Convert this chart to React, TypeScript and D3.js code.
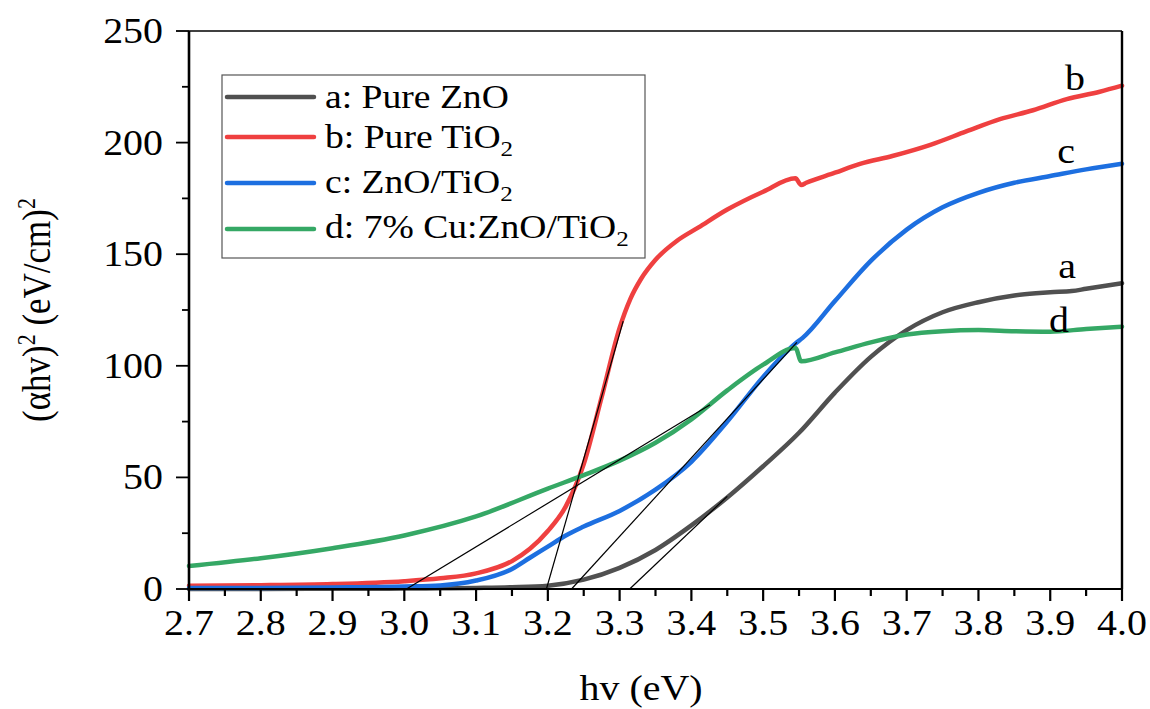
import React from "react";
import * as d3 from "d3";

// Tauc plot: (αhv)² versus photon energy for four samples
const ZNO_X = [2.7, 2.8, 2.9, 3.0, 3.05, 3.1, 3.15, 3.2, 3.25, 3.3, 3.35, 3.4, 3.45, 3.5, 3.55, 3.6, 3.65, 3.7, 3.75, 3.8, 3.85, 3.88, 3.9, 3.93, 3.95, 4.0];
const ZNO_Y = [0, 0, 0.1, 0.2, 0.3, 0.5, 0.8, 1.5, 4.2, 9.5, 17.5, 28.5, 41, 55, 70, 88, 104, 116, 124, 128.5, 131.5, 132.5, 133, 133.5, 134.5, 137];

const TIO2_X = [2.7, 2.8, 2.9, 3.0, 3.05, 3.1, 3.15, 3.175, 3.2, 3.225, 3.25, 3.275, 3.3, 3.315, 3.33, 3.35, 3.38, 3.41, 3.45, 3.5, 3.545, 3.553, 3.56, 3.6, 3.635, 3.68, 3.733, 3.783, 3.83, 3.876, 3.923, 3.969, 4.0];
const TIO2_Y = [1.5, 1.7, 2.2, 3.5, 4.8, 7, 12.5, 18, 26, 37, 56, 86, 117, 130, 139, 147.5, 156, 162, 170, 178, 184, 181, 182, 186.5, 190.5, 194, 199, 205, 210.5, 214.5, 219.5, 222.8, 225.5];

const ZT_X = [2.7, 2.8, 2.9, 3.0, 3.05, 3.1, 3.15, 3.175, 3.2, 3.225, 3.25, 3.3, 3.35, 3.4, 3.45, 3.5, 3.545, 3.555, 3.6, 3.65, 3.7, 3.75, 3.8, 3.85, 3.9, 3.95, 4.0];
const ZT_Y = [0.5, 0.5, 0.7, 1.1, 1.6, 3.8, 9, 14, 19, 24, 28, 35, 44.5, 57, 75, 95, 110, 112.5, 129, 147, 161, 171, 177.5, 182, 185, 188, 190.5];

const CU_X = [2.7, 2.8, 2.9, 3.0, 3.1, 3.2, 3.25, 3.3, 3.35, 3.4, 3.45, 3.5, 3.545, 3.553, 3.6, 3.65, 3.7, 3.75, 3.8, 3.85, 3.9, 3.95, 4.0];
const CU_Y = [10.3, 13.8, 18.3, 24, 32.5, 45, 51, 57.5, 65.5, 76, 89, 100.5, 108, 102, 106, 110.5, 114, 115.5, 116, 115.5, 115.3, 116.5, 117.5];

// Linear extrapolations to the energy axis (band-gap estimates)
const TANGENTS: [number, number, number, number][] = [
  [3.003, 0, 3.426, 82.5],
  [3.198, 0, 3.305, 120],
  [3.233, 0, 3.547, 110.5],
  [3.314, 0, 3.45, 41.5],
];

const X_TICKS = [2.7, 2.8, 2.9, 3.0, 3.1, 3.2, 3.3, 3.4, 3.5, 3.6, 3.7, 3.8, 3.9, 4.0];
const X_MINOR = [2.75, 2.85, 2.95, 3.05, 3.15, 3.25, 3.35, 3.45, 3.55, 3.65, 3.75, 3.85, 3.95];
const Y_TICKS = [0, 50, 100, 150, 200, 250];
const Y_MINOR = [25, 75, 125, 175, 225];

const SERIES = [
  { key: "a", name: "Pure ZnO", sub: "", xs: ZNO_X, ys: ZNO_Y, color: "#505050", tag: [1067, 278] },
  { key: "b", name: "Pure TiO", sub: "2", xs: TIO2_X, ys: TIO2_Y, color: "#ef4040", tag: [1075, 90] },
  { key: "c", name: "ZnO/TiO", sub: "2", xs: ZT_X, ys: ZT_Y, color: "#1d6fe0", tag: [1066, 163] },
  { key: "d", name: "7% Cu:ZnO/TiO", sub: "2", xs: CU_X, ys: CU_Y, color: "#35a865", tag: [1059, 332] },
];

const W = 1150;
const H = 709;
const L = 189;
const R = 1122;
const T = 31;
const B = 589;
const SX = 1.14;
const FONT = "Liberation Serif";

const x = d3.scaleLinear().domain([2.7, 4.0]).range([L, R]);
const y = d3.scaleLinear().domain([0, 250]).range([B, T]);

const line = d3
  .line<[number, number]>()
  .x((d) => x(d[0]))
  .y((d) => y(d[1]))
  .curve(d3.curveMonotoneX);

function Txt({ px, py, size = 35, anchor = "start", children, rotate = 0 }: any) {
  return (
    <text
      transform={`translate(${px},${py}) scale(${SX},1)${rotate ? ` rotate(${rotate})` : ""}`}
      fontFamily={FONT}
      fontSize={size}
      textAnchor={anchor}
      fill="#000"
    >
      {children}
    </text>
  );
}

const LEGEND_ROWS = [97, 137, 183, 229];
const LEGEND_BASE = [108, 148, 193, 238];

export default function App() {
  return (
    <svg width={W} height={H} style={{ position: "fixed", left: 0, top: 0, background: "#fff" }}>
      {/* curves */}
      {SERIES.map((s) => (
        <path
          key={s.key}
          d={line(s.xs.map((v, i) => [v, s.ys[i]] as [number, number])) || ""}
          fill="none"
          stroke={s.color}
          strokeWidth={4.5}
          strokeLinejoin="round"
          strokeLinecap="round"
        />
      ))}
      {TANGENTS.map((t, i) => (
        <line key={i} x1={x(t[0])} y1={y(t[1])} x2={x(t[2])} y2={y(t[3])} stroke="#000" strokeWidth={1.2} />
      ))}

      {/* frame */}
      <line x1={L} y1={T} x2={R} y2={T} stroke="#000" strokeWidth={1.6} />
      <line x1={R} y1={T} x2={R} y2={B} stroke="#000" strokeWidth={2.4} />
      <line x1={L} y1={T} x2={L} y2={B + 1} stroke="#000" strokeWidth={2.6} />
      <line x1={L} y1={B} x2={R} y2={B} stroke="#000" strokeWidth={2} />

      {/* x axis ticks */}
      {X_TICKS.map((v) => (
        <g key={v}>
          <line x1={x(v)} y1={B} x2={x(v)} y2={B + 12} stroke="#000" strokeWidth={2.2} />
          <Txt px={x(v)} py={635} anchor="middle">
            {v.toFixed(1)}
          </Txt>
        </g>
      ))}
      {X_MINOR.map((v) => (
        <line key={v} x1={x(v)} y1={B} x2={x(v)} y2={B + 7} stroke="#000" strokeWidth={2.2} />
      ))}

      {/* y axis ticks */}
      {Y_TICKS.map((v) => (
        <g key={v}>
          <line x1={L - 13} y1={y(v)} x2={L} y2={y(v)} stroke="#000" strokeWidth={1.8} />
          <Txt px={163} py={y(v) + 12} anchor="end">
            {v}
          </Txt>
        </g>
      ))}
      {Y_MINOR.map((v) => (
        <line key={v} x1={L - 7} y1={y(v)} x2={L} y2={y(v)} stroke="#000" strokeWidth={1.8} />
      ))}

      {/* axis titles */}
      <Txt px={641} py={700} anchor="middle">
        hv (eV)
      </Txt>
      <Txt px={50} py={310} anchor="middle" rotate={-90}>
        (αhv)
        <tspan fontSize={22} dy={-13}>2</tspan>
        <tspan dy={13}> (eV/cm)</tspan>
        <tspan fontSize={22} dy={-13}>2</tspan>
      </Txt>

      {/* curve tags */}
      {SERIES.map((s) => (
        <Txt key={s.key} px={s.tag[0]} py={s.tag[1]} anchor="middle">
          {s.key}
        </Txt>
      ))}

      {/* legend */}
      <rect x={222} y={75} width={423} height={183} fill="#fff" stroke="#555" strokeWidth={1.2} />
      {SERIES.map((s, i) => (
        <g key={s.key}>
          <line x1={227} y1={LEGEND_ROWS[i]} x2={314} y2={LEGEND_ROWS[i]} stroke={s.color} strokeWidth={4.5} strokeLinecap="round" />
          <Txt px={325} py={LEGEND_BASE[i]} size={33}>
            {`${s.key}: ${s.name}`}
            {s.sub ? (
              <tspan fontSize={22} dy={8}>
                {s.sub}
              </tspan>
            ) : null}
          </Txt>
        </g>
      ))}
    </svg>
  );
}
